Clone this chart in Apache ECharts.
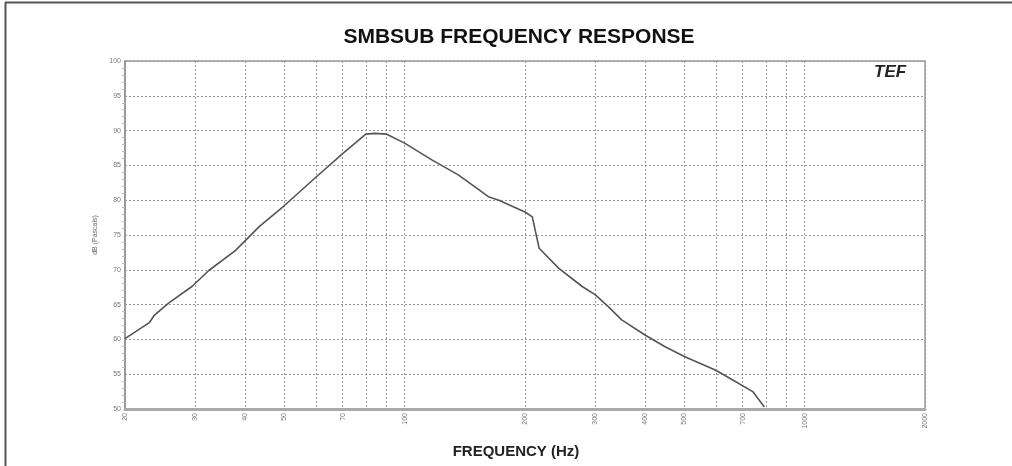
<!DOCTYPE html>
<html>
<head>
<meta charset="utf-8">
<script src="https://cdn.jsdelivr.net/npm/echarts@6/dist/echarts.min.js"></script>
<style>html,body{margin:0;padding:0;background:#fff}#chart{width:1012px;height:466px}</style>
</head>
<body>
<div id="chart"></div>
<script>
// Data
const freqHz = [20, 23, 23.7, 25.7, 29.4, 32.4, 37.8, 43.3, 50, 60, 70, 80, 84.4, 90, 100, 117, 136.5, 162, 172, 200, 208.6, 213, 217, 243, 278, 300, 323, 349, 400, 448, 502, 598, 660, 742, 793];
const levelDb = [60.1, 62.4, 63.5, 65.2, 67.6, 69.9, 72.8, 76.2, 79.2, 83.3, 86.7, 89.5, 89.6, 89.5, 88.2, 85.8, 83.6, 80.5, 80.0, 78.3, 77.6, 75.2, 73.1, 70.2, 67.6, 66.4, 64.7, 62.8, 60.6, 58.95, 57.5, 55.6, 54.2, 52.5, 50.3];
const xGridValues = [20, 30, 40, 50, 60, 70, 80, 90, 100, 200, 300, 400, 500, 600, 700, 800, 900, 1000, 2000];
const xLabelValues = [20, 30, 40, 50, 70, 100, 200, 300, 400, 500, 700, 1000, 2000];
const titleText = 'SMBSUB FREQUENCY RESPONSE';
const xName = 'FREQUENCY (Hz)';
const yName = 'dB (Pascals)';

const chart = echarts.init(document.getElementById('chart'));
chart.setOption({
  backgroundColor: '#fff',
  animation: false,
  title: [
    { text: titleText, left: 514, top: 22, textAlign: 'center',
      textStyle: { fontFamily: 'Liberation Sans', fontWeight: 'bold', fontSize: 21, color: '#111' } },
    { text: xName, left: 511, top: 439, textAlign: 'center',
      textStyle: { fontFamily: 'Liberation Sans', fontWeight: 'bold', fontSize: 15, color: '#222' } }
  ],
  grid: { left: 125, right: 87, top: 61, bottom: 57, show: true, borderColor: '#999', borderWidth: 1.5, backgroundColor: 'transparent' },
  xAxis: {
    type: 'log', logBase: 10, min: 20, max: 2000,
    axisLine: { show: true, lineStyle: { color: '#aaa', width: 3 } },
    axisTick: { show: false, customValues: xGridValues },
    axisLabel: { customValues: xLabelValues, rotate: 90, fontSize: 7, color: '#777', margin: 4, fontFamily: 'Liberation Sans',
      formatter: v => String(Math.round(v)) },
    splitLine: { show: true, lineStyle: { color: '#999', type: [2, 2], width: 1 } },
    minorTick: { show: false }, minorSplitLine: { show: false }
  },
  yAxis: {
    type: 'value', min: 50, max: 100, interval: 5,
    name: yName, nameLocation: 'middle', nameGap: 26, nameRotate: 90,
    nameTextStyle: { fontSize: 7, color: '#666', fontFamily: 'Liberation Sans' },
    axisLine: { show: true, lineStyle: { color: '#999', width: 2 } },
    axisTick: { show: false },
    minorTick: { show: true, splitNumber: 5, length: 3, lineStyle: { color: '#bbb' } },
    axisLabel: { fontSize: 7, color: '#777', margin: 4, fontFamily: 'Liberation Sans' },
    splitLine: { show: true, lineStyle: { color: '#999', type: [2, 2], width: 1 } }
  },
  series: [{
    type: 'line',
    data: freqHz.map((f, i) => [f, levelDb[i]]),
    showSymbol: false,
    smooth: false,
    lineStyle: { color: '#555', width: 1.6, join: 'round' }
  }],
  graphic: [
    { type: 'line', shape: { x1: 5, y1: 2.5, x2: 1012, y2: 2.5 }, style: { stroke: '#555', lineWidth: 2 } },
    { type: 'line', shape: { x1: 5.5, y1: 2.5, x2: 5.5, y2: 466 }, style: { stroke: '#555', lineWidth: 2 } },
    { type: 'text', left: 874, top: 64, style: { text: 'TEF', font: 'italic 900 17px "Liberation Sans"', fill: '#222' } }
  ]
});
</script>
</body>
</html>
